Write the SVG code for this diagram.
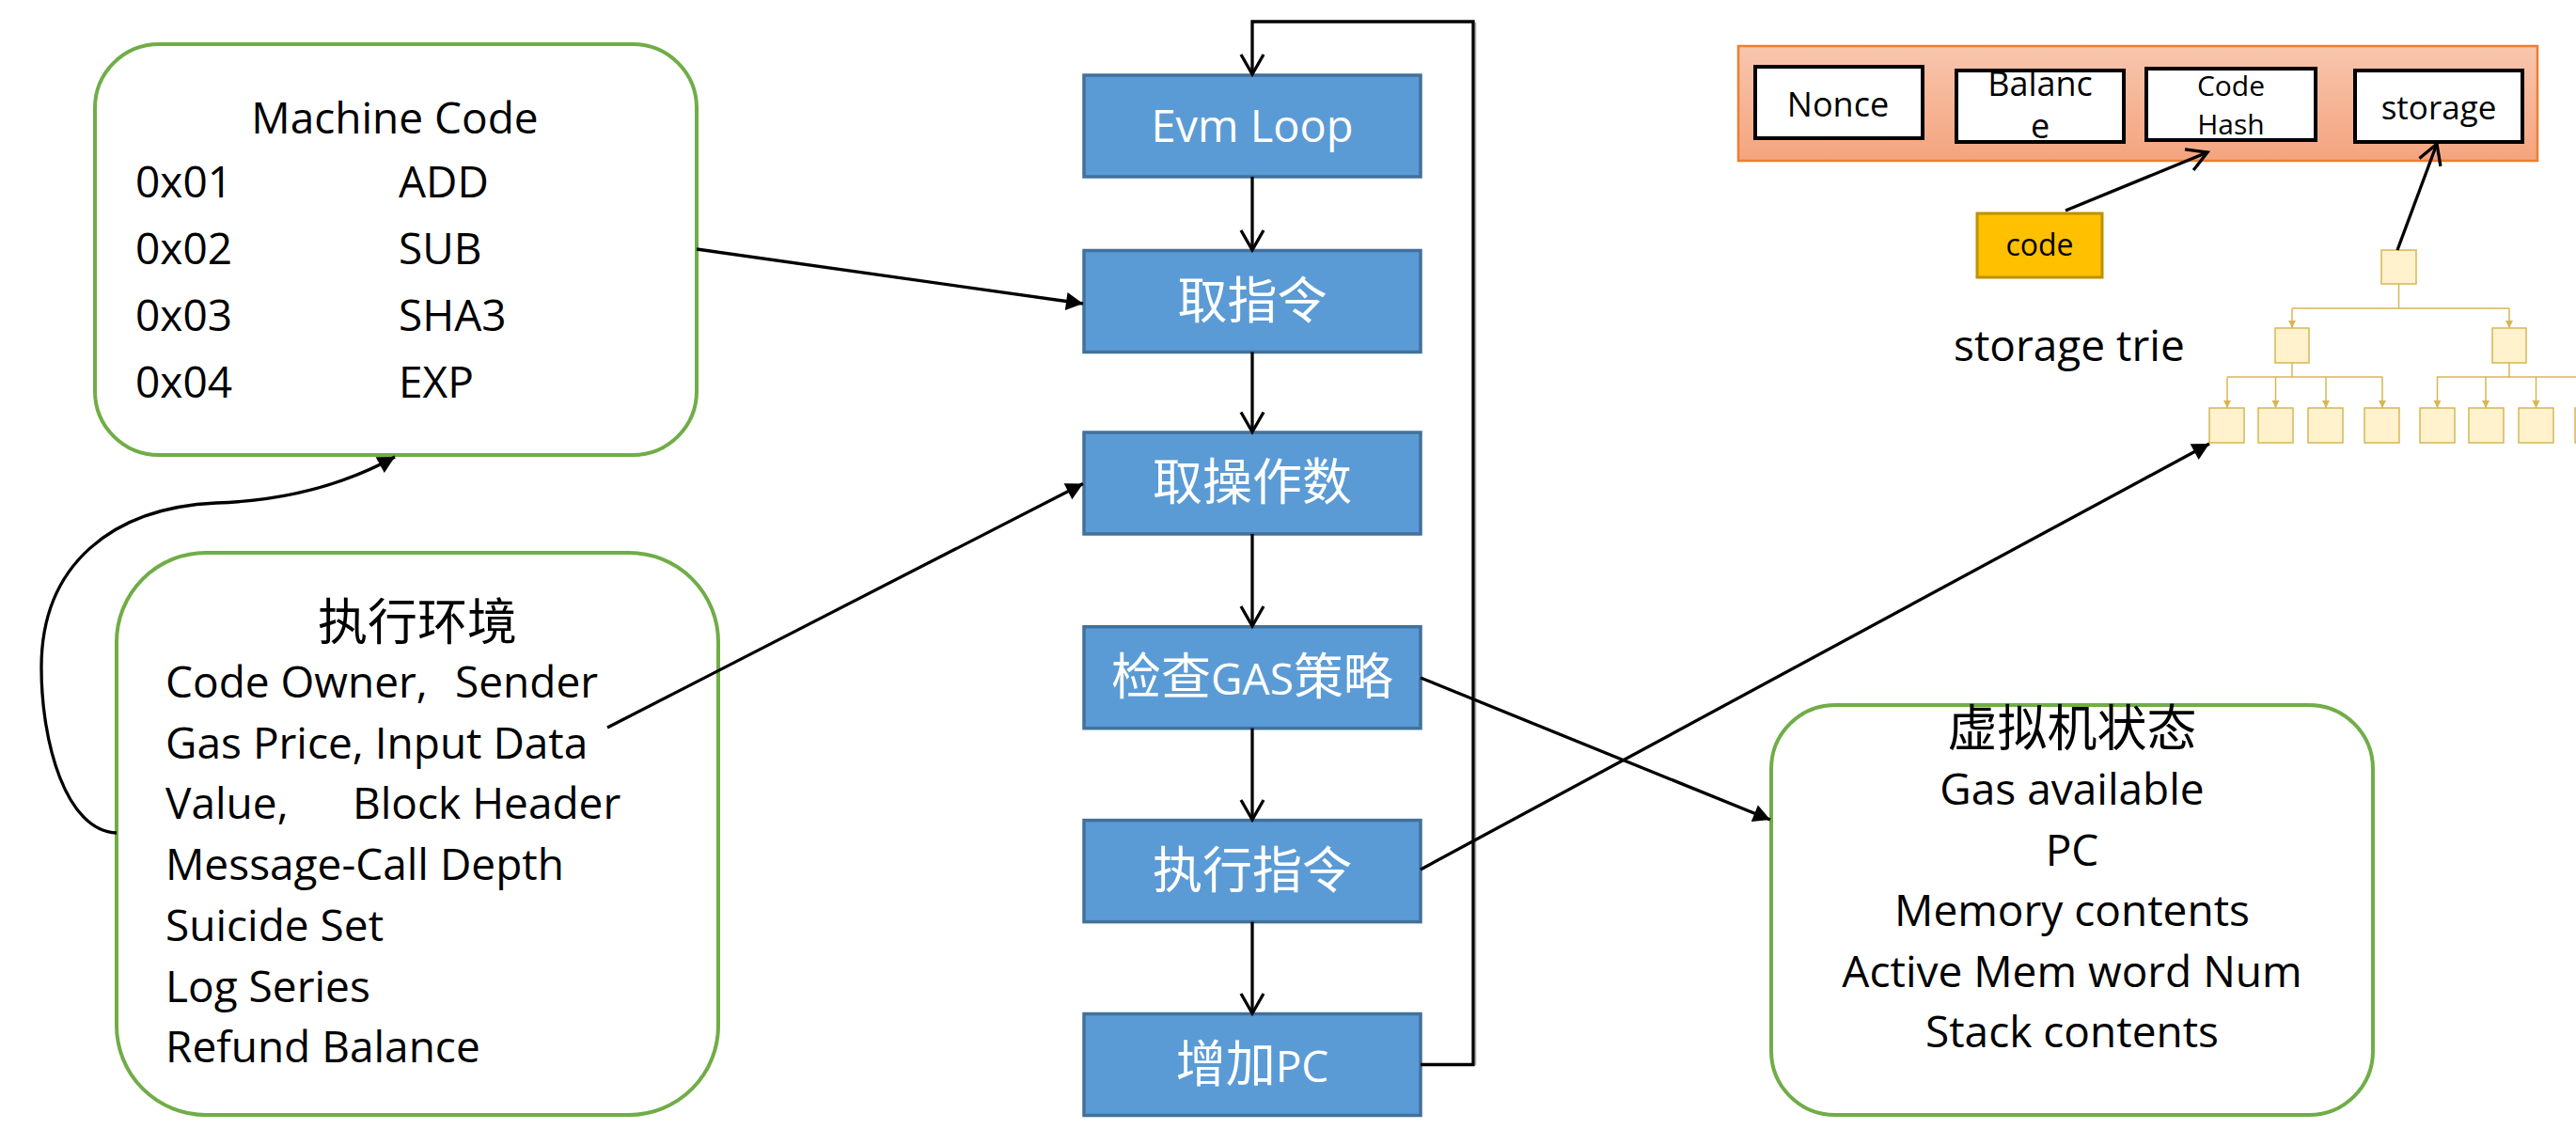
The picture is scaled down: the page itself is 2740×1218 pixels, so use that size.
<svg xmlns="http://www.w3.org/2000/svg" width="2740" height="1218" viewBox="0 0 2740 1218">
<defs>
<style>
.t{font-family:"Open Sans","Noto Sans CJK SC",sans-serif;fill:#000}
.f46{font-size:46px}
.cj{font-size:53px}
.wt{fill:#fff}
.green{fill:#fff;stroke:#70AD47;stroke-width:4}
.blue{fill:#5B9BD5;stroke:#41719C;stroke-width:3.5}
.conn{fill:none;stroke:#000;stroke-width:3.3}
.hbox{fill:#fff;stroke:#000;stroke-width:4}
.tn{fill:#FFF2CC;stroke:#D6B656;stroke-width:1.5}
.tl{fill:none;stroke:#D6B656;stroke-width:1.5}
</style>
<linearGradient id="hg" x1="0" y1="0" x2="0" y2="1">
<stop offset="0" stop-color="#F8C6AE"/>
<stop offset="1" stop-color="#F4A47E"/>
</linearGradient>
<marker id="fa" markerUnits="userSpaceOnUse" viewBox="-20 -11 22 22" markerWidth="22" markerHeight="22" refX="0" refY="0" orient="auto">
<path d="M0,0 L-18,-9.5 L-18,9.5 Z" fill="#000"/>
</marker>
<marker id="va" markerUnits="userSpaceOnUse" viewBox="-26 -15 32 30" markerWidth="32" markerHeight="30" refX="0" refY="0" orient="auto">
<path d="M-21,-12 L0,0 L-21,12" fill="none" stroke="#000" stroke-width="3.3"/>
</marker>
<marker id="ta" markerUnits="userSpaceOnUse" viewBox="-9 -5 10 10" markerWidth="10" markerHeight="10" refX="0" refY="0" orient="auto">
<path d="M0,0 L-8,-4 L-8,4 Z" fill="#D6B656"/>
</marker>
</defs>
<rect width="2740" height="1218" fill="#fff"/>

<g id="machine-code">
<rect x="101" y="47" width="640" height="437" rx="68" class="green"/>
<text class="t f46" x="420" y="142" text-anchor="middle">Machine Code</text>
<text class="t f46" x="144" y="210">0x01</text>
<text class="t f46" x="424" y="210">ADD</text>
<text class="t f46" x="144" y="281">0x02</text>
<text class="t f46" x="424" y="281">SUB</text>
<text class="t f46" x="144" y="352">0x03</text>
<text class="t f46" x="424" y="352">SHA3</text>
<text class="t f46" x="144" y="423">0x04</text>
<text class="t f46" x="424" y="423">EXP</text>
</g>

<g id="exec-env">
<rect x="124" y="588" width="640" height="598" rx="95" class="green"/>
<text class="t cj" x="444" y="681" text-anchor="middle">执行环境</text>
<text class="t f46" x="176" y="742">Code Owner,<tspan x="484">Sender</tspan></text>
<text class="t f46" x="176" y="806.5">Gas Price, Input Data</text>
<text class="t f46" x="176" y="871">Value,<tspan x="375">Block Header</tspan></text>
<text class="t f46" x="176" y="936">Message-Call Depth</text>
<text class="t f46" x="176" y="1001">Suicide Set</text>
<text class="t f46" x="176" y="1065.5">Log Series</text>
<text class="t f46" x="176" y="1130">Refund Balance</text>
</g>

<g id="vm-state">
<rect x="1884" y="750" width="640" height="436" rx="68" class="green"/>
<text class="t cj" x="2204" y="794" text-anchor="middle">虚拟机状态</text>
<text class="t f46" x="2204" y="856" text-anchor="middle">Gas available</text>
<text class="t f46" x="2204" y="920.5" text-anchor="middle">PC</text>
<text class="t f46" x="2204" y="985" text-anchor="middle">Memory contents</text>
<text class="t f46" x="2204" y="1050" text-anchor="middle">Active Mem word Num</text>
<text class="t f46" x="2204" y="1114" text-anchor="middle">Stack contents</text>
</g>

<g id="evm-loop">
<rect x="1153" y="80" width="358" height="108" class="blue"/>
<text class="t wt" x="1332" y="151" text-anchor="middle" style="font-size:47px">Evm Loop</text>
</g>
<g id="fetch-instr">
<rect x="1153" y="266.5" width="358" height="108" class="blue"/>
<text class="t wt cj" x="1332" y="338.5" text-anchor="middle">取指令</text>
</g>
<g id="fetch-operand">
<rect x="1153" y="460" width="358" height="108" class="blue"/>
<text class="t wt cj" x="1332" y="532" text-anchor="middle">取操作数</text>
</g>
<g id="check-gas">
<rect x="1153" y="666.7" width="358" height="108" class="blue"/>
<text class="t wt cj" x="1332" y="739" text-anchor="middle">检查<tspan class="f46">GAS</tspan>策略</text>
</g>
<g id="exec-instr">
<rect x="1153" y="872.6" width="358" height="108" class="blue"/>
<text class="t wt cj" x="1332" y="944.5" text-anchor="middle">执行指令</text>
</g>
<g id="inc-pc">
<rect x="1153" y="1078.5" width="358" height="108" class="blue"/>
<text class="t wt cj" x="1332" y="1150.5" text-anchor="middle">增加<tspan class="f46">PC</tspan></text>
</g>

<g id="account">
<rect x="1849" y="49" width="850" height="122" fill="url(#hg)" stroke="#ED7D31" stroke-width="2.5"/>
<g id="nonce">
<rect x="1867" y="71" width="178" height="76" class="hbox"/>
<text class="t" x="1955" y="124" text-anchor="middle" style="font-size:36px">Nonce</text>
</g>
<g id="balance">
<rect x="2081" y="75" width="178" height="76" class="hbox"/>
<text class="t" x="2170" y="102" text-anchor="middle" style="font-size:36px">Balanc</text>
<text class="t" x="2170" y="147" text-anchor="middle" style="font-size:36px">e</text>
</g>
<g id="code-hash">
<rect x="2283" y="73" width="180" height="76" class="hbox"/>
<text class="t" x="2373" y="102" text-anchor="middle" style="font-size:30px">Code</text>
<text class="t" x="2373" y="143" text-anchor="middle" style="font-size:30px">Hash</text>
</g>
<g id="storage">
<rect x="2505" y="75" width="178" height="76" class="hbox"/>
<text class="t" x="2594" y="127" text-anchor="middle" style="font-size:35px">storage</text>
</g>
</g>

<g id="code">
<rect x="2103" y="227" width="133" height="68" fill="#FFC000" stroke="#BF9000" stroke-width="3"/>
<text class="t" x="2169.5" y="272" text-anchor="middle" style="font-size:32px">code</text>
</g>

<g id="storage-trie-label">
<text class="t f46" x="2078" y="384">storage trie</text>
</g>

<g id="storage-trie">
<rect x="2533" y="266" width="37" height="36" class="tn"/>
<path class="tl" d="M2551.5,302 V328 M2438,328 H2669"/>
<path class="tl" d="M2438,328 V349" marker-end="url(#ta)"/>
<path class="tl" d="M2669,328 V349" marker-end="url(#ta)"/>
<rect x="2420" y="349" width="36" height="37" class="tn"/>
<rect x="2651" y="349" width="36" height="37" class="tn"/>
<path class="tl" d="M2438,386 V401 M2369,401 H2534 M2669,386 V401 M2592,401 H2745"/>
<path class="tl" d="M2369,401 V434" marker-end="url(#ta)"/>
<path class="tl" d="M2420.5,401 V434" marker-end="url(#ta)"/>
<path class="tl" d="M2474,401 V434" marker-end="url(#ta)"/>
<path class="tl" d="M2534,401 V434" marker-end="url(#ta)"/>
<path class="tl" d="M2592.5,401 V434" marker-end="url(#ta)"/>
<path class="tl" d="M2644,401 V434" marker-end="url(#ta)"/>
<path class="tl" d="M2697.5,401 V434" marker-end="url(#ta)"/>
<rect x="2350" y="434" width="37" height="37" class="tn"/>
<rect x="2402" y="434" width="37" height="37" class="tn"/>
<rect x="2455" y="434" width="37" height="37" class="tn"/>
<rect x="2515" y="434" width="37" height="37" class="tn"/>
<rect x="2574" y="434" width="37" height="37" class="tn"/>
<rect x="2626" y="434" width="37" height="37" class="tn"/>
<rect x="2679" y="434" width="37" height="37" class="tn"/>
<rect x="2739" y="434" width="37" height="37" class="tn"/>
</g>

<g id="connectors">
<path class="conn" d="M1332,188 V266" marker-end="url(#va)"/>
<path class="conn" d="M1332,374.5 V459.5" marker-end="url(#va)"/>
<path class="conn" d="M1332,568 V666" marker-end="url(#va)"/>
<path class="conn" d="M1332,774.7 V872" marker-end="url(#va)"/>
<path class="conn" d="M1332,980.6 V1078" marker-end="url(#va)"/>
<path d="M1569.5,24 V1133" fill="none" stroke="#AAA" stroke-width="1.5"/>
<path class="conn" d="M1511,1132.5 H1567 V23 H1332 V79" marker-end="url(#va)"/>
<path class="conn" d="M741,265 L1152,323" marker-end="url(#fa)"/>
<path class="conn" d="M646,774 L1152,514.5" marker-end="url(#fa)"/>
<path class="conn" d="M1511,721 L1883,872" marker-end="url(#fa)"/>
<path class="conn" d="M1511,925 L2350,472" marker-end="url(#fa)"/>
<path class="conn" d="M124,886 C70,884 44,790 44,710 C44,600 120,540 230,535 C320,532 380,508 420,486" marker-end="url(#fa)"/>
<path class="conn" d="M2197,224 L2348,162" marker-end="url(#va)"/>
<path class="conn" d="M2550,266 L2592,153" marker-end="url(#va)"/>
</g>
</svg>
